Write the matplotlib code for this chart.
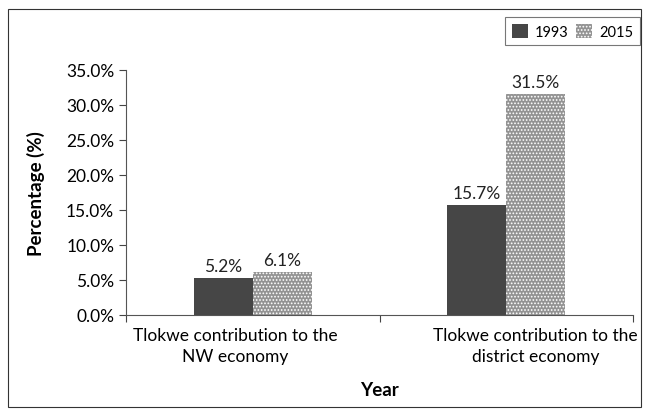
import numpy as np
import matplotlib.pyplot as plt
from matplotlib.patches import Rectangle

categories = ['Tlokwe contribution to the\nNW economy',
              'Tlokwe contribution to the\ndistrict economy']
years = ['1993', '2015']
values_1993 = [5.2, 15.7]
values_2015 = [6.1, 31.5]

plt.rcParams['font.family'] = ['Lato', 'DejaVu Sans']
plt.rcParams['hatch.linewidth'] = 0.8

fig = plt.figure(figsize=(6.46, 4.14), dpi=100)
ax = fig.add_axes([0.195, 0.237, 0.785, 0.592])

x = np.arange(len(categories))
w = 0.233
b1 = ax.bar(x - w / 2, values_1993, w, color='#464646', label=years[0])
b2 = ax.bar(x + w / 2, values_2015, w, color='#939393', edgecolor='white',
            linewidth=0, hatch='.....', label=years[1])

for bars, vals in [(b1, values_1993), (b2, values_2015)]:
    for r, v in zip(bars, vals):
        ax.text(r.get_x() + r.get_width() / 2, v + 0.6, '%.1f%%' % v,
                ha='center', va='bottom', fontsize=12.5, color='#222222')

ax.set_xlim(-0.5, 1.5)
ax.set_ylim(0, 35)
ax.set_yticks(np.arange(0, 36, 5))
ax.set_yticklabels(['%.1f%%' % t for t in np.arange(0, 36, 5)], fontsize=12.5)
ax.set_xticks([-0.5, 0.5, 1.5], minor=False)
ax.set_xticklabels([])
# labels sit a little off the group centres, as in the original
label_shift = [-0.07, 0.115]
ax.set_xticks(x + np.array(label_shift), minor=True)
ax.set_xticklabels(categories, minor=True, fontsize=12.5, linespacing=1.35)
ax.tick_params(axis='x', which='minor', length=0, pad=9)
ax.tick_params(axis='x', which='major', length=5, direction='out', color='#444444')
ax.tick_params(axis='y', length=5, color='#444444')
for s in ['top', 'right']:
    ax.spines[s].set_visible(False)
for s in ['left', 'bottom']:
    ax.spines[s].set_color('#555555')

ax.set_ylabel('Percentage (%)', fontsize=13.5, fontweight='bold', labelpad=15)
ax.set_xlabel('Year', fontsize=13.5, fontweight='bold', labelpad=12)

leg = ax.legend(loc='upper right', bbox_to_anchor=(1.014, 1.215), ncol=2,
                fontsize=10.5, frameon=True, fancybox=False, edgecolor='#555555',
                handlelength=1.1, handleheight=1.1, columnspacing=0.5,
                handletextpad=0.5, borderpad=0.45, borderaxespad=0)
leg.get_frame().set_linewidth(0.8)

fig.patches.append(Rectangle((8 / 646, 6 / 414), 633 / 646, 398 / 414,
                             transform=fig.transFigure, fill=False,
                             edgecolor='#333333', linewidth=0.8))

fig.savefig('out.png', dpi=100)
